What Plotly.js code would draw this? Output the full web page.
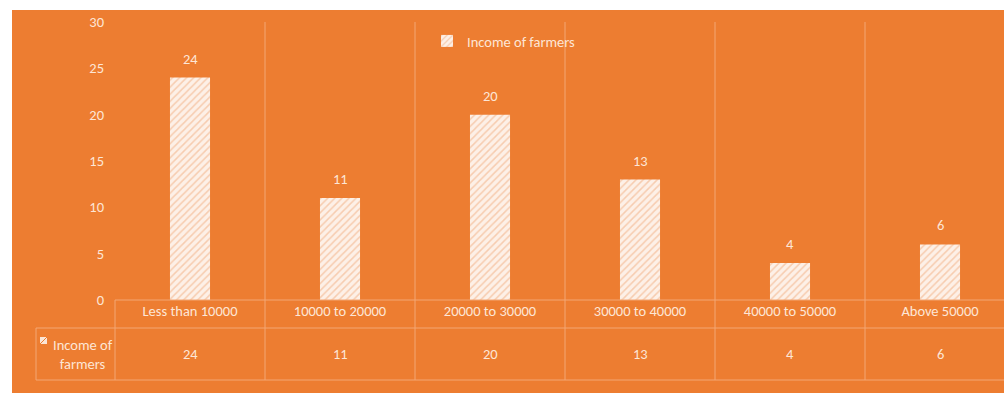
<!DOCTYPE html>
<html>
<head>
<meta charset="utf-8">
<script src="https://cdn.plot.ly/plotly-3.0.1.min.js"></script>
<style>
html,body{margin:0;padding:0;background:#ffffff;overflow:hidden;width:1004px;height:393px;}
#chart{position:absolute;left:12px;top:10px;width:1008px;height:383px;}
</style>
</head>
<body>
<div id="chart"></div>
<script>
const categories = ["Less than 10000", "10000 to 20000", "20000 to 30000", "30000 to 40000", "40000 to 50000", "Above 50000"];
const values = [24, 11, 20, 13, 4, 6];
const seriesName = "Income of farmers";
const yTicks = [0, 5, 10, 15, 20, 25, 30];

const ORANGE = '#ED7D31';
const TXT = '#FDE6D6';
const GRID = '#F3A774';
const FONT = 'Carlito, Lato, sans-serif';
const FS = 14.5;

// pixel helpers (page coordinates -> paper coordinates of the plot area 115..1015 x 22..300)
const px = x => (x - 115) / 900;
const py = y => (300 - y) / 278;

const shapes = [];
const lineStyle = {color: GRID, width: 1};
for (let i = 0; i < categories.length - 1; i++) {
  shapes.push({type: 'line', xref: 'x', yref: 'paper', x0: i + 0.5, x1: i + 0.5, y0: py(380), y1: 1, line: lineStyle});
}
shapes.push({type: 'line', xref: 'paper', yref: 'paper', x0: 0, x1: 1, y0: 0, y1: 0, line: lineStyle});
shapes.push({type: 'line', xref: 'paper', yref: 'paper', x0: px(36), x1: 1, y0: py(328), y1: py(328), line: lineStyle});
shapes.push({type: 'line', xref: 'paper', yref: 'paper', x0: px(36), x1: 1, y0: py(380), y1: py(380), line: lineStyle});
shapes.push({type: 'line', xref: 'paper', yref: 'paper', x0: px(36), x1: px(36), y0: py(328), y1: py(380), line: lineStyle});
shapes.push({type: 'line', xref: 'paper', yref: 'paper', x0: 0, x1: 0, y0: 0, y1: py(380), line: lineStyle});
shapes.push({type: 'rect', xref: 'paper', yref: 'paper', x0: px(40), x1: px(47), y0: py(344), y1: py(337), fillcolor: '#FBE5D6', line: {width: 0}});
shapes.push({type: 'line', xref: 'paper', yref: 'paper', x0: px(40), x1: px(47), y0: py(344), y1: py(337), line: {color: ORANGE, width: 1}});

const annotations = [];
categories.forEach((c, i) => {
  annotations.push({x: c, y: values[i], xref: 'x', yref: 'y', text: String(values[i]), showarrow: false,
    yanchor: 'bottom', yshift: 8, font: {family: FONT, size: FS, color: TXT}});
  annotations.push({x: c, y: py(354), xref: 'x', yref: 'paper', text: String(values[i]), showarrow: false,
    yanchor: 'middle', font: {family: FONT, size: FS, color: TXT}});
});
annotations.push({x: px(83), y: py(354), xref: 'paper', yref: 'paper', text: 'Income of<br>farmers', showarrow: false,
  xanchor: 'center', yanchor: 'middle', align: 'center', font: {family: FONT, size: FS, color: TXT}});

const trace = {
  type: 'bar',
  x: categories,
  y: values,
  name: seriesName,
  marker: {
    color: '#FDF0E7',
    line: {width: 0},
    pattern: {shape: '/', fgcolor: '#F0A878', size: 5, solidity: 0.3, fillmode: 'overlay'}
  },
  hoverinfo: 'none',
  cliponaxis: false
};

const layout = {
  width: 1008,
  height: 383,
  margin: {l: 103, r: 5, t: 12, b: 93, pad: 0},
  paper_bgcolor: ORANGE,
  plot_bgcolor: ORANGE,
  bargap: 0.733,
  showlegend: true,
  legend: {x: px(427), y: py(25), xanchor: 'left', yanchor: 'top', bgcolor: 'rgba(0,0,0,0)',
    font: {family: FONT, size: FS, color: TXT}, itemwidth: 30},
  xaxis: {type: 'category', range: [-0.5, 5.5], showgrid: false, zeroline: false, showline: false, ticks: '',
    tickfont: {family: FONT, size: FS, color: TXT}, fixedrange: true},
  yaxis: {range: [0, 30], tickvals: yTicks, ticktext: yTicks.map(String), showgrid: false, zeroline: false,
    showline: false, ticks: '', ticklabelstandoff: 10, tickfont: {family: FONT, size: FS, color: TXT}, fixedrange: true},
  shapes: shapes,
  annotations: annotations,
  font: {family: FONT, color: TXT}
};

Plotly.newPlot('chart', [trace], layout, {displayModeBar: false, staticPlot: true});
</script>
</body>
</html>
